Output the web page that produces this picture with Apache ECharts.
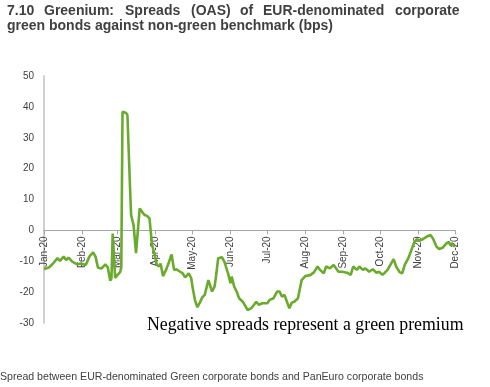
<!DOCTYPE html>
<html><head><meta charset="utf-8">
<script src="https://cdn.jsdelivr.net/npm/echarts@6/dist/echarts.min.js"></script>
<style>html,body{margin:0;padding:0;background:#fff}#c{width:490px;height:387px}</style>
</head><body><div id="c"></div>
<script>
const titleLine1Words = ['7.10','Greenium:','Spreads','(OAS)','of','EUR-denominated','corporate'];
const titleLine2 = 'green bonds against non-green benchmark (bps)';
const annotation = 'Negative spreads represent a green premium';
const footnote = 'Spread between EUR-denominated Green corporate bonds and PanEuro corporate bonds';
const monthNames = ['Jan','Feb','Mar','Apr','May','Jun','Jul','Aug','Sep','Oct','Nov','Dec'];
const yTicks = {min:-30, max:50, interval:10};
const dates = ['2020-01-01','2020-01-05','2020-01-08','2020-01-12','2020-01-14','2020-01-17','2020-01-19','2020-01-21','2020-01-24','2020-01-28','2020-01-31',
'2020-02-04','2020-02-07','2020-02-10','2020-02-12','2020-02-14','2020-02-17','2020-02-20','2020-02-22','2020-02-24','2020-02-25','2020-02-26','2020-02-28',
'2020-03-01','2020-03-03','2020-03-04','2020-03-05','2020-03-08','2020-03-09','2020-03-11','2020-03-12','2020-03-14','2020-03-16','2020-03-19','2020-03-21','2020-03-23','2020-03-25','2020-03-27','2020-03-29','2020-03-31',
'2020-04-02','2020-04-04','2020-04-05','2020-04-07','2020-04-10','2020-04-11','2020-04-14','2020-04-16','2020-04-18','2020-04-21','2020-04-23','2020-04-25','2020-04-28','2020-04-30',
'2020-05-01','2020-05-03','2020-05-05','2020-05-07','2020-05-09','2020-05-11','2020-05-14','2020-05-17','2020-05-19','2020-05-20','2020-05-22','2020-05-25','2020-05-27','2020-05-30',
'2020-06-01','2020-06-02','2020-06-04','2020-06-06','2020-06-08','2020-06-11','2020-06-15','2020-06-18','2020-06-22','2020-06-24','2020-06-27',
'2020-07-01','2020-07-03','2020-07-06','2020-07-09','2020-07-11','2020-07-13','2020-07-15','2020-07-17','2020-07-19','2020-07-21','2020-07-23','2020-07-26','2020-07-29',
'2020-08-01','2020-08-05','2020-08-08','2020-08-11','2020-08-13','2020-08-16','2020-08-18','2020-08-21','2020-08-24','2020-08-26','2020-08-28','2020-08-31',
'2020-09-04','2020-09-07','2020-09-09','2020-09-12','2020-09-14','2020-09-17','2020-09-19','2020-09-22','2020-09-25','2020-09-28','2020-09-30',
'2020-10-03','2020-10-07','2020-10-08','2020-10-10','2020-10-12','2020-10-14','2020-10-17','2020-10-19','2020-10-21','2020-10-24','2020-10-27','2020-10-29','2020-10-31',
'2020-11-02','2020-11-05','2020-11-08','2020-11-11','2020-11-13','2020-11-16','2020-11-18','2020-11-21','2020-11-24','2020-11-26','2020-11-27','2020-11-29','2020-12-01'];
const spreads = [-12.5,-12.0,-10.9,-9.0,-9.9,-8.5,-9.6,-8.8,-10.1,-11.0,-10.7,
-11.2,-8.5,-7.1,-8.5,-12.1,-12.3,-11.0,-12.0,-16.3,-15.5,-1.0,-15.4,
-14.4,-13.5,-12.0,38.4,38.0,37.3,15.2,5.0,1.7,-7.4,7.1,6.0,5.0,4.7,3.9,-4.5,-7.6,
-11.2,-11.7,-10.7,-14.8,-12.3,-11.2,-7.8,-12.8,-12.6,-13.4,-13.9,-15.2,-13.9,-15.5,
-18.2,-22.5,-24.9,-23.4,-21.7,-20.9,-16.1,-19.8,-18.2,-15.5,-9.0,-8.7,-10.1,-13.9,
-17.1,-15.0,-18.2,-19.8,-22.0,-23.1,-25.8,-25.2,-23.1,-24.1,-23.6,
-23.6,-22.5,-22.0,-19.8,-19.8,-21.5,-20.9,-23.1,-25.2,-23.4,-23.1,-22.0,-16.1,
-14.8,-14.5,-13.6,-11.7,-12.8,-13.9,-11.7,-12.3,-11.2,-12.3,-13.4,-13.4,
-13.7,-14.4,-11.7,-12.8,-11.7,-12.8,-12.3,-13.4,-12.6,-13.7,-13.4,
-14.4,-12.8,-12.1,-10.7,-9.3,-11.7,-13.6,-13.9,-11.2,-9.0,-5.8,-3.7,-2.8,
-3.4,-2.8,-2.0,-1.5,-2.6,-5.3,-6.0,-5.6,-4.2,-3.7,-4.7,-4.5,-5.3];

const chart = echarts.init(document.getElementById('c'), null, {renderer:'canvas'});
const textColor = '#404040';
const gridTop = 76, gridBottom = 64, chartH = 387;
const plotH = chartH - gridTop - gridBottom;
const zeroOffset = -plotH * (0 - yTicks.min) / (yTicks.max - yTicks.min);
const wordX = [7,44,125,191,240,263,395];
const titleFont = 'bold 14px "Liberation Sans", Arial, sans-serif';
const graphics = titleLine1Words.map((w,i)=>({type:'text', left:wordX[i], top:4,
  style:{text:w, font:titleFont, fill:textColor}}));
graphics.push({type:'text', left:7, top:19, style:{text:titleLine2, font:titleFont, fill:textColor}});
graphics.push({type:'text', left:147, top:316, style:{text:annotation, font:'17.8px "Liberation Serif", "DejaVu Serif", serif', fill:'#000'}});
graphics.push({type:'text', left:0, top:372, style:{text:footnote, font:'10.6px "Liberation Sans", Arial, sans-serif', fill:textColor}});

chart.setOption({
  animation:false,
  grid:{left:44, right:35, top:gridTop, bottom:gridBottom, containLabel:false},
  xAxis:{type:'time', min:'2020-01-01', max:'2020-12-01', offset:zeroOffset,
    minInterval:28*86400000, maxInterval:31*86400000,
    axisLine:{onZero:false, lineStyle:{color:'#a6a6a6', width:1}},
    axisTick:{show:true, length:4, lineStyle:{color:'#a6a6a6'}},
    splitLine:{show:false},
    axisLabel:{rotate:90, margin:6, color:textColor, fontSize:10, fontFamily:'"Liberation Sans", Arial, sans-serif',
      showMinLabel:true, showMaxLabel:true, hideOverlap:false,
      formatter:function(v){const d=new Date(v);return monthNames[d.getMonth()]+'-'+String(d.getFullYear()).slice(2);}}},
  yAxis:{type:'value', min:yTicks.min, max:yTicks.max, interval:yTicks.interval,
    axisLine:{show:true, lineStyle:{color:'#bfbfbf', width:1.5}},
    axisTick:{show:false}, splitLine:{show:false},
    axisLabel:{margin:10, color:textColor, fontSize:10, fontFamily:'"Liberation Sans", Arial, sans-serif'}},
  series:[{type:'line', showSymbol:false, symbol:'none', smooth:false, z:5,
    lineStyle:{color:'#6aaa2c', width:2.6}, data:dates.map((d,i)=>[d,spreads[i]])}],
  graphic:graphics
});
</script></body></html>
